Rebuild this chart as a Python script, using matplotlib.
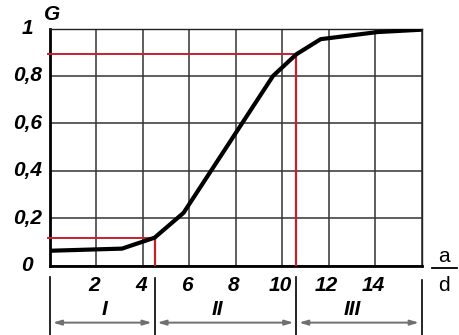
import matplotlib
matplotlib.use("Agg")
import matplotlib.pyplot as plt
import matplotlib.transforms as mtrans

plt.rcParams['font.family'] = ['Liberation Sans', 'DejaVu Sans']

# Data
x_vals = [0.0, 3.1, 4.5, 5.75, 9.6, 10.6, 11.65, 14.1, 16.0]
g_vals = [0.063, 0.072, 0.118, 0.223, 0.80, 0.891, 0.955, 0.985, 0.995]
ref_low = (4.5, 0.118)
ref_high = (10.6, 0.891)
x_ticks = [2, 4, 6, 8, 10, 12, 14]
y_ticks = [0, 0.2, 0.4, 0.6, 0.8, 1]
y_labels = ['0', '0,2', '0,4', '0,6', '0,8', '1']
zones = ['I', 'II', 'III']
zone_bounds = [0, 4.5, 10.6, 16]

fig = plt.figure(figsize=(4.6, 3.35), dpi=100)
ax = fig.add_axes([50/460, 69.3/335, 371.7/460, 237.2/335])
ax.set_xlim(0, 16)
ax.set_ylim(0, 1)
ax.set_xticks(range(0, 17, 2))
ax.set_yticks([0, 0.2, 0.4, 0.6, 0.8, 1.0])
ax.set_xticklabels([])
ax.set_yticklabels([])
ax.tick_params(length=0)
ax.grid(True, color='#333333', linewidth=1.1)
for s in ['top', 'right']:
    ax.spines[s].set_linewidth(1.0)
    ax.spines[s].set_color('#222222')
for s in ['left', 'bottom']:
    ax.spines[s].set_linewidth(2.0)
    ax.spines[s].set_color('black')

# red reference lines
red = '#c8202a'
for (rx, ry) in [ref_low, ref_high]:
    ax.plot([-0.1, rx], [ry, ry], color=red, lw=1.4, clip_on=False, zorder=3)
    ax.plot([rx, rx], [0, ry], color=red, lw=1.6, zorder=3)

ax.plot(x_vals, g_vals, color='black', lw=3.0, solid_capstyle='butt', zorder=4)

# y labels
for v, lab in zip(y_ticks, y_labels):
    off = -12.2 if lab in ('0', '1') else -5.8
    ax.annotate(lab, xy=(0, v), xycoords=('axes fraction', 'data'),
                xytext=(off, 0), textcoords='offset points',
                ha='right', va='center', fontsize=15, style='italic',
                fontweight='bold')

# x labels
for v in x_ticks:
    ax.annotate(str(v), xy=(v, 0), xycoords=('data', 'axes fraction'),
                xytext=(-1.5, -14), textcoords='offset points',
                ha='center', va='center', fontsize=15, style='italic',
                fontweight='bold')

ax.text(0.006, 1.057, 'G', transform=ax.transAxes, ha='center', va='center',
        fontsize=15, fontweight='bold', style='italic')

# a/d
ax.text(1.060, 0.040, 'a', transform=ax.transAxes, ha='center', va='center', fontsize=15)
ax.plot([1.027, 1.094], [-0.008, -0.008], transform=ax.transAxes, color='black',
        lw=1.3, clip_on=False)
ax.text(1.060, -0.083, 'd', transform=ax.transAxes, ha='center', va='center', fontsize=15)

# dimension lines
bt = mtrans.blended_transform_factory(ax.transData, ax.transAxes)
starts = [-0.046, -0.052, -0.047, -0.06]
for xb, st in zip(zone_bounds, starts):
    ax.plot([xb, xb], [st, -0.30], transform=bt, color='black', lw=1.2, clip_on=False)
for i, lab in enumerate(zones):
    a0, a1 = zone_bounds[i], zone_bounds[i + 1]
    ax.annotate('', xy=(a1 - 0.12, -0.240), xytext=(a0 + 0.12, -0.240),
                xycoords=bt, textcoords=bt,
                arrowprops=dict(arrowstyle='<|-|>,head_length=0.5,head_width=0.15',
                                color='#707070', lw=1.4, shrinkA=0, shrinkB=0))
lab_pos = [2.35, 7.2, 13.0]
for lab, xp in zip(zones, lab_pos):
    ax.text(xp, -0.185, lab, transform=bt, ha='center', va='center',
            fontsize=15, style='italic', fontweight='bold')

fig.savefig('out.png', dpi=100)
